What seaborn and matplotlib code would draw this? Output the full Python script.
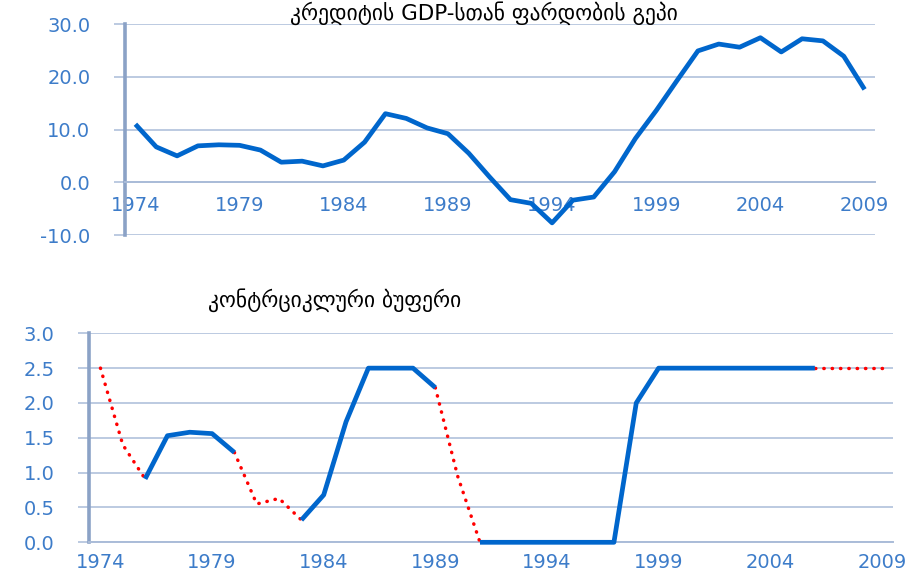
import numpy as np
import pandas as pd
import matplotlib
matplotlib.use("Agg")
import matplotlib.pyplot as plt
from matplotlib.ticker import FixedLocator, FuncFormatter
import seaborn as sns

# ---- data -------------------------------------------------------------
years = list(range(1974, 2010))

credit_gap = [11.0, 6.7, 5.0, 6.9, 7.1, 7.0, 6.1, 3.8, 4.0, 3.1, 4.2, 7.6,
              13.0, 12.1, 10.3, 9.2, 5.5, 1.0, -3.3, -4.0, -7.7, -3.4, -2.8,
              2.0, 8.3, 13.6, 19.3, 24.9, 26.2, 25.6, 27.4, 24.7, 27.2, 26.8,
              23.9, 17.6]

buffer = [2.5, 1.4, 0.91, 1.53, 1.58, 1.56, 1.29, 0.55, 0.63, 0.32, 0.68,
          1.73, 2.5, 2.5, 2.5, 2.22, 0.95, 0.0, 0.0, 0.0, 0.0, 0.0, 0.0,
          0.0, 2.0, 2.5, 2.5, 2.5, 2.5, 2.5, 2.5, 2.5, 2.5, 2.5, 2.5, 2.5]

# years where the buffer is interpolated (drawn dotted)
filled_years = [1974, 1975, 1981, 1982, 1990, 2007, 2008, 2009]

label_years = [1974, 1979, 1984, 1989, 1994, 1999, 2004, 2009]
gap_ticks = [-10, 0, 10, 20, 30]
buffer_ticks = [0.0, 0.5, 1.0, 1.5, 2.0, 2.5, 3.0]

title_gap = "კრედიტის GDP-სთან ფარდობის გეპი"
title_buffer = "კონტრციკლური ბუფერი"

# ---- style ------------------------------------------------------------
sns.set_style("white")
plt.rcParams["font.family"] = ["DejaVu Sans"]

BLUE = "#0066CC"
RED = "#FF0000"
GRID = "#AABCD8"
SPINE = "#8BA2C6"
TICKTXT = "#3D7CC9"

fig = plt.figure(figsize=(9.2, 5.75), dpi=100)
ax1 = fig.add_axes([125 / 920, 1 - 235 / 575, 750 / 920, 211 / 575])
ax2 = fig.add_axes([89.3 / 920, 1 - 542.3 / 575, 803.7 / 920, 209 / 575])

# ---- credit gap -------------------------------------------------------
gap_df = pd.DataFrame({"year": years, "gap": credit_gap})
sns.lineplot(data=gap_df, x="year", y="gap", ax=ax1, color=BLUE,
             linewidth=3.4, solid_capstyle="butt", solid_joinstyle="round",
             zorder=4)

# ---- buffer: solid where set, dotted where interpolated ----------------
buf_df = pd.DataFrame({"year": years, "buffer": buffer})
buf_df["filled"] = buf_df["year"].isin(filled_years)
run_id = (buf_df["filled"] != buf_df["filled"].shift()).cumsum()

solid = buf_df[~buf_df["filled"]].assign(seg=run_id[~buf_df["filled"]])

dotted_parts = []
for rid, grp in buf_df[buf_df["filled"]].groupby(run_id[buf_df["filled"]]):
    lo = max(grp.index.min() - 1, 0)
    hi = min(grp.index.max() + 1, len(buf_df) - 1)
    dotted_parts.append(buf_df.loc[lo:hi].assign(seg=rid))
dotted = pd.concat(dotted_parts)

sns.lineplot(data=dotted, x="year", y="buffer", units="seg", estimator=None,
             ax=ax2, color=RED, linewidth=2.5, linestyle=(0, (0.1, 2.3)),
             dash_capstyle="round", sort=True, clip_on=False, zorder=4)
sns.lineplot(data=solid, x="year", y="buffer", units="seg", estimator=None,
             ax=ax2, color=BLUE, linewidth=3.4, solid_capstyle="butt",
             solid_joinstyle="round", sort=True, clip_on=False, zorder=5)

# ---- axes styling -----------------------------------------------------
def style_axes(ax, yticks, pad_x):
    ax.set_xlabel("")
    ax.set_ylabel("")
    ax.set_xlim(1973.5, 2009.5)
    ax.set_ylim(yticks[0], yticks[-1])
    ax.set_axisbelow(True)
    ax.set_yticks(yticks)
    ax.yaxis.set_major_formatter(FuncFormatter(lambda v, p: f"{v:.1f}"))
    ax.grid(axis="y", color=GRID, linewidth=1.1)
    ax.grid(axis="x", visible=False)
    ax.xaxis.set_major_locator(FixedLocator(label_years))
    ax.xaxis.set_minor_locator(FixedLocator(np.arange(1973.5, 2010.0, 1.0)))
    ax.set_xticklabels([str(y) for y in label_years])
    ax.tick_params(axis="x", which="major", length=0, pad=pad_x,
                   labelsize=14, labelcolor=TICKTXT)
    ax.tick_params(axis="x", which="minor", length=3.5, width=1.1,
                   color=GRID, direction="out")
    ax.tick_params(axis="y", which="major", length=8, width=1.1, color=GRID,
                   pad=17, labelsize=14, labelcolor=TICKTXT, left=True)
    for side in ("top", "right"):
        ax.spines[side].set_visible(False)
    ax.spines["left"].set_color(SPINE)
    ax.spines["left"].set_linewidth(2.6)
    ax.spines["bottom"].set_color(GRID)
    ax.spines["bottom"].set_linewidth(1.4)

style_axes(ax1, gap_ticks, pad_x=10)
ax1.spines["bottom"].set_position(("data", 0))
ax1.set_yticklabels([f"{v:.1f}" for v in gap_ticks])

style_axes(ax2, buffer_ticks, pad_x=8)

# ---- titles -----------------------------------------------------------
fig.text(484 / 920, 1 - 13 / 575, title_gap, ha="center", va="center",
         fontsize=15.5, color="black")
fig.text(335 / 920, 1 - 300 / 575, title_buffer, ha="center", va="center",
         fontsize=15.5, color="black")

fig.savefig("out.png", dpi=100)
